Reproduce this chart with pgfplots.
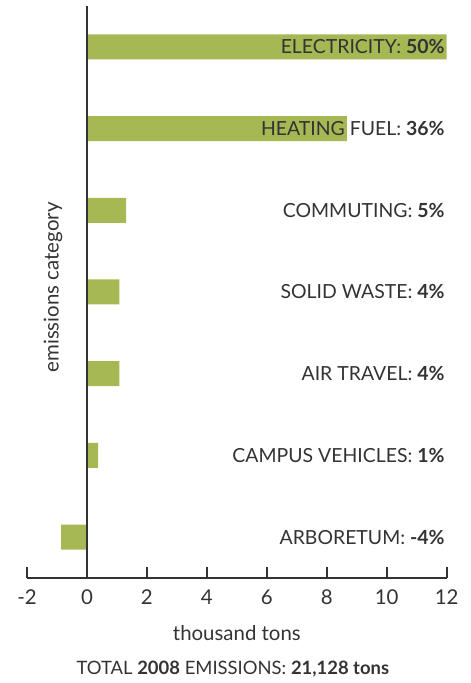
\documentclass[border=0pt]{standalone}
\usepackage{fontspec}
\setmainfont{Lato}
\usepackage{pgfplots}
\pgfplotsset{compat=1.18}
\definecolor{barg}{RGB}{166,184,84}
\definecolor{txt}{RGB}{51,51,51}
\newcommand{\fs}{\fontsize{20.5}{24}\selectfont}
\newcommand{\fl}{\fontsize{19.5}{23}\selectfont}
\newcommand{\ft}{\fontsize{18.5}{22}\selectfont}
\tikzset{lab/.style={anchor=base east, inner sep=0pt, text=txt, font=\fl, yshift=-7bp, xshift=-2bp}}
\begin{document}
\begin{tikzpicture}
\begin{axis}[
  name=ax,
  scale only axis,
  width=419.7bp, height=572bp,
  xmin=-2, xmax=12, ymin=-0.5, ymax=6.5,
  axis x line*=bottom, axis y line*=left,
  y axis line style={draw=none},
  x axis line style={-, line width=2.6pt, color=txt},
  ytick=\empty,
  xtick={-2,0,2,4,6,8,10,12},
  xticklabels={-2,0,2,4,6,8,10,12},
  tick align=inside,
  major tick length=11bp,
  xtick style={line width=2pt, color=txt},
  xticklabel style={font=\fs, text=txt, anchor=center, yshift=-19bp},
  xlabel={thousand tons},
  xlabel style={font=\fs, text=txt, at={(axis description cs:0.5,0)}, anchor=center, yshift=-55bp},
  ylabel={emissions category},
  ylabel style={font=\fs, text=txt, at={(axis description cs:0.062,0.508)}, anchor=center},
  xbar, bar width=25bp, bar shift=0pt,
  clip=false,
]
\addplot[fill=barg, draw=none] coordinates {
  (12.0,6) (8.67,5) (1.31,4) (1.08,3) (1.08,2) (0.37,1) (-0.86,0)
};
\draw[line width=2.6pt, color=txt] (axis cs:0,-0.5) -- (axis cs:0,6.5);
\node[lab] at (axis cs:12,6) {ELECTRICITY: \textbf{50\%}};
\node[lab] at (axis cs:12,5) {HEATING FUEL: \textbf{36\%}};
\node[lab] at (axis cs:12,4) {COMMUTING: \textbf{5\%}};
\node[lab] at (axis cs:12,3) {SOLID WASTE: \textbf{4\%}};
\node[lab] at (axis cs:12,2) {AIR TRAVEL: \textbf{4\%}};
\node[lab] at (axis cs:12,1) {CAMPUS VEHICLES: \textbf{1\%}};
\node[lab] at (axis cs:12,0) {ARBORETUM: \textbf{-4\%}};
\end{axis}
\node[anchor=center, text=txt, font=\ft, inner sep=0pt] at ([xshift=-4bp, yshift=-91bp]ax.south) {TOTAL \textbf{2008} EMISSIONS: \textbf{21,128 tons}};
\pgfresetboundingbox
\path[use as bounding box] ([xshift=-27bp,yshift=-105bp]ax.south west) rectangle ([xshift=24.3bp,yshift=6bp]ax.north east);
\end{tikzpicture}
\end{document}
